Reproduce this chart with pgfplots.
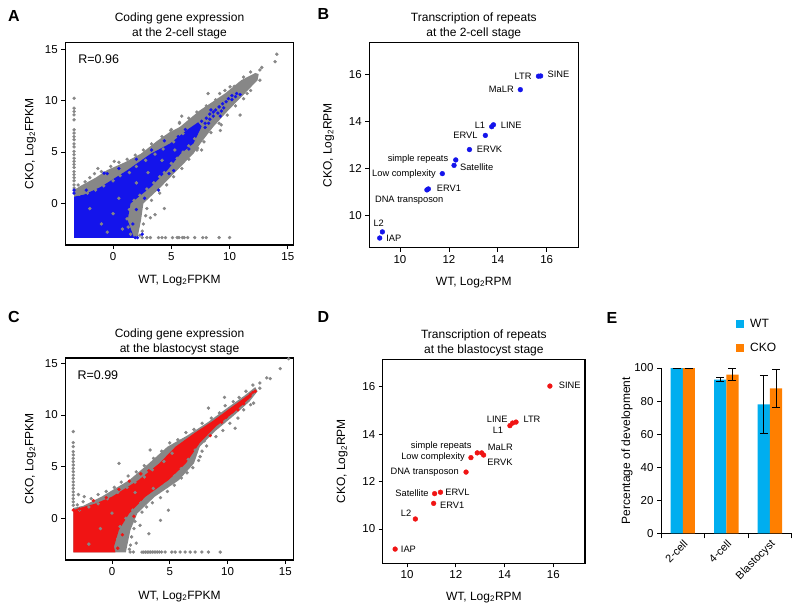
\documentclass[border=0pt]{standalone}
\usepackage{fontspec}
\setmainfont{Liberation Sans}
\usepackage{pgfplots}
\pgfplotsset{compat=1.18}
\definecolor{scgray}{RGB}{135,135,135}
\definecolor{scblue}{RGB}{20,20,235}
\definecolor{scred}{RGB}{240,20,20}
\definecolor{wtblue}{RGB}{0,174,239}
\definecolor{ckoorange}{RGB}{255,127,0}
\pgfplotsset{
  scatterax/.style={scale only axis, tick align=outside, xtick pos=left, ytick pos=left,
    major tick length=4pt, axis line style={line width=1.1pt},
    tick style={line width=0.8pt, black},
    /pgf/number format/assume math mode=true,
    tick label style={font=\fontsize{11.5}{13}\selectfont},
    label style={font=\fontsize{12}{14}\selectfont},
    title style={font=\fontsize{12}{15}\selectfont, align=center, at={(0.5,1)}, anchor=south, inner sep=0pt, yshift=-2.8pt}},
  gpt/.style={only marks, mark=*, mark size=1.5pt, color=scgray, mark options={solid, fill=scgray, draw=scgray}},
  bpt/.style={only marks, mark=*, mark size=1.5pt, color=scblue, mark options={solid, fill=scblue, draw=scblue}},
  rpt/.style={only marks, mark=*, mark size=1.5pt, color=scred, mark options={solid, fill=scred, draw=scred}},
}
\tikzset{lab/.style={font=\fontsize{9.3}{11}\selectfont, inner sep=0pt}}
\begin{document}
\begin{tikzpicture}
\path[use as bounding box] (0pt,0pt) rectangle (800pt,-612pt);
\tikzset{letter/.style={font=\bfseries\fontsize{16}{16}\selectfont}}
\node[letter] at (14pt,-15.5pt) {A};
\node[letter] at (323.5pt,-14pt) {B};
\node[letter] at (14pt,-316.7pt) {C};
\node[letter] at (323.5pt,-317pt) {D};
\node[letter] at (612pt,-317.5pt) {E};

% ---------------- A ----------------
\begin{axis}[scatterax, at={(65.3pt,-245pt)}, anchor=south west, width=228.4pt, height=202.3pt,
  xmin=-4.1, xmax=15.5, ymin=-4.05, ymax=15.65, xtick={0,5,10,15}, ytick={0,5,10,15},
  title={Coding gene expression\\at the 2-cell stage},
  xlabel={WT, Log\textsubscript{2}FPKM}, ylabel={CKO, Log\textsubscript{2}FPKM},
  xlabel style={at={(axis description cs:0.5,0)}, anchor=base, yshift=-38pt},
  ylabel style={at={(axis description cs:-0.14,0.5)}, anchor=base}]
\addplot[draw=none, fill=scgray] coordinates {(-3.35,-3.35) (-3.35,1.3) (-2.8,1.7) (-1.5,2.5) (-0.5,3.25) (1.0,4.0) (2.4,4.85) (3.8,6.1) (4.8,6.9) (5.75,7.46) (7.46,9.08) (9.6,10.7) (11.0,12.0) (12.2,12.7) (12.5,12.6) (12.4,12.0) (11.3,10.7) (9.9,9.08) (8.6,7.46) (7.5,5.84) (6.9,4.84) (5.5,3.24) (4.1,1.6) (2.6,0.0) (2.4,-1.63) (2.1,-3.35)};
\addplot[gpt] coordinates {(-3.0,1.8) (-2.4,2.1) (-2.0,2.5) (-1.6,2.9) (-1.0,3.1) (-0.2,3.6) (0.5,4.0) (1.2,4.3) (1.9,4.7) (2.6,5.2) (3.3,5.8) (4.2,6.5) (5.0,7.2) (5.7,7.8) (6.5,8.3) (7.2,8.9) (8.0,9.5) (8.8,10.1) (9.6,11.0) (10.4,11.4) (11.2,12.3) (11.8,12.8) (12.6,13.0) (12.76,13.24) (-0.77,2.75) (-1.3,3.4) (0.1,4.1)
(12.6,12.0) (11.8,11.0) (11.2,10.2) (10.5,9.5) (9.8,8.6) (9.1,7.8) (8.4,6.9) (7.8,6.0) (7.2,5.2) (6.5,4.3) (5.9,3.4) (5.2,2.6) (4.6,1.8) (4.0,1.0) (3.3,0.3) (2.9,-0.5) (2.8,-1.2) (2.6,-2.0) (2.5,-2.7) (2.3,-3.1) (3.2,-1.4) (4.4,-0.5) (3.6,-1.1)
(4.94,7.1) (5.9,8.5) (5.7,7.9) (8.15,10.7) (9.15,10.7) (10.04,11.35) (11.5,10.7) (10.9,8.6) (9.2,7.1) (9.28,7.65) (7.6,5.2) (7.26,5.39) (13.9,13.8) (14.05,14.53)
(-3.35,1.5) (-3.35,1.8) (-3.35,2.2) (-3.35,2.5) (-3.35,2.8) (-3.35,3.1) (-3.35,3.5) (-3.35,3.8) (-3.35,4.1) (-3.35,4.4) (-3.35,4.75) (-3.35,5.07) (-3.35,5.5) (-3.35,5.8) (-3.35,6.2) (-3.35,6.5) (-3.35,6.85) (-3.35,7.17) (-3.35,8.14) (-3.35,8.62) (-3.35,8.95) (-3.35,9.27) (-3.35,10.24)
(2.5,-3.33) (2.9,-3.33) (3.2,-3.33) (3.9,-3.33) (4.2,-3.33) (4.5,-3.33) (5.1,-3.33) (5.5,-3.33) (5.65,-3.33) (5.95,-3.33) (6.1,-3.33) (6.4,-3.33) (7.0,-3.33) (7.7,-3.33) (8.0,-3.33) (9.1,-3.33) (10.0,-3.33)};
\addplot[draw=none, fill=scblue] coordinates {(-3.35,-3.35) (-3.35,0.65) (-2.5,0.85) (-1.06,1.6) (1.23,3.24) (3.24,4.84) (4.9,5.84) (6.4,7.2) (7.3,7.9) (7.6,7.5) (6.9,5.84) (5.8,4.84) (4.66,3.24) (3.24,1.6) (1.5,0.0) (1.25,-1.63) (1.8,-3.35)};
\addplot[gpt] coordinates {(-2.9,0.9) (-2.2,1.0) (-1.5,1.3) (-0.8,1.7) (0.0,2.2) (0.6,2.7) (1.4,3.0) (2.0,3.6) (2.8,4.2) (3.6,4.8) (4.3,5.3) (5.2,6.0) (6.0,6.8) (1.5,-3.0) (1.3,-2.3) (1.2,-1.5) (1.4,-0.6) (1.8,0.3) (2.3,0.8) (2.9,1.4) (3.5,2.0) (4.0,2.6) (4.4,3.0) (5.0,3.9) (5.5,4.4) (6.0,5.0) (6.5,5.6) (7.0,6.3) (0.0,-1.0) (-1.0,-2.0) (0.5,0.5) (-2.0,-0.5) (2.0,2.0) (3.0,3.0) (-0.5,-2.8) (0.8,-2.5) (4.2,4.2) (5.3,5.2)};
\addplot[bpt] coordinates {(7.2,7.4) (7.6,8.0) (7.9,7.8) (8.0,8.3) (8.3,8.7) (8.3,8.2) (8.6,8.9) (8.6,8.5) (8.8,9.1) (9.0,8.8) (9.1,9.4) (9.3,9.0) (9.4,9.7) (9.5,9.3) (9.7,9.9) (9.9,10.2) (10.2,10.1) (10.2,10.5) (10.5,10.4) (10.6,10.7) (10.9,10.6) (8.2,7.8) (7.9,7.4) (8.4,9.1) (9.2,8.5) (6.2,7.2) (5.6,6.5)
(-0.77,2.95) (-0.5,2.9) (-3.35,1.0) (-3.35,1.3) (-2.3,1.3) (0.5,3.4) (2.0,4.3) (3.3,5.2) (4.4,6.1) (5.2,3.2) (3.9,1.3) (2.0,-0.6) (1.7,-2.0) (2.1,-3.33) (2.5,-3.0) (1.9,-3.33) (4.8,2.9) (6.5,5.3) (2.7,0.5)};
\node[font=\fontsize{12.5}{14}\selectfont, anchor=west, inner sep=0pt] at (axis cs:-3.0,14.0) {R=0.96};
\end{axis}

% ---------------- B ----------------
\begin{axis}[scatterax, at={(369.3pt,-247.7pt)}, anchor=south west, width=209pt, height=205pt,
  xmin=8.745, xmax=17.29, ymin=8.64, ymax=17.33, xtick={10,12,14,16}, ytick={10,12,14,16},
  title={Transcription of repeats\\at the 2-cell stage},
  xlabel={WT, Log\textsubscript{2}RPM}, ylabel={CKO, Log\textsubscript{2}RPM},
  xlabel style={at={(axis description cs:0.5,0)}, anchor=base, yshift=-37.3pt},
  ylabel style={at={(axis description cs:-0.18,0.5)}, anchor=base}]
\addplot[only marks, mark=*, mark size=2.4pt, color=scblue, mark options={solid, fill=scblue, draw=none}] coordinates {
(15.66,15.91) (15.75,15.92) (14.92,15.34) (13.75,13.77) (13.82,13.85) (13.49,13.40) (12.84,12.80) (12.28,12.36) (12.21,12.13) (11.73,11.78) (11.16,11.13) (11.10,11.09) (9.28,9.31) (9.17,9.05)};
\node[lab, anchor=east] at (axis cs:15.385,15.92) {LTR};
\node[lab, anchor=west] at (axis cs:16.03,16.0) {SINE};
\node[lab, anchor=east] at (axis cs:14.66,15.35) {MaLR};
\node[lab, anchor=east] at (axis cs:13.49,13.83) {L1};
\node[lab, anchor=west] at (axis cs:14.12,13.83) {LINE};
\node[lab, anchor=east] at (axis cs:13.18,13.40) {ERVL};
\node[lab, anchor=west] at (axis cs:13.14,12.80) {ERVK};
\node[lab, anchor=east] at (axis cs:11.98,12.41) {simple repeats};
\node[lab, anchor=west] at (axis cs:12.45,12.07) {Satellite};
\node[lab, anchor=east] at (axis cs:11.47,11.78) {Low complexity};
\node[lab, anchor=west] at (axis cs:11.5,11.14) {ERV1};
\node[lab, anchor=center] at (axis cs:10.375,10.66) {DNA transposon};
\node[lab, anchor=center] at (axis cs:9.13,9.67) {L2};
\node[lab, anchor=west] at (axis cs:9.43,9.03) {IAP};
\end{axis}

% ---------------- C ----------------
\begin{axis}[scatterax, at={(65.3pt,-560pt)}, anchor=south west, width=228.4pt, height=202pt,
  xmin=-4.04, xmax=15.73, ymin=-4.04, ymax=15.52, xtick={0,5,10,15}, ytick={0,5,10,15},
  title={Coding gene expression\\at the blastocyst stage},
  xlabel={WT, Log\textsubscript{2}FPKM}, ylabel={CKO, Log\textsubscript{2}FPKM},
  xlabel style={at={(axis description cs:0.5,0)}, anchor=base, yshift=-39pt},
  ylabel style={at={(axis description cs:-0.14,0.5)}, anchor=base}]
\addplot[draw=none, fill=scgray] coordinates {(-3.35,-3.3) (-3.35,1.0) (-2.5,1.2) (-0.9,2.09) (1.5,3.7) (3.2,5.32) (4.8,6.93) (6.5,8.0) (8.3,9.3) (10.0,10.7) (11.5,11.9) (12.4,12.7) (12.6,12.3) (11.9,11.3) (10.5,9.9) (9.0,8.5) (7.6,6.93) (7.1,5.32) (5.8,3.7) (3.7,2.09) (2.2,0.48) (1.6,-1.13) (1.3,-2.75) (1.2,-3.3)};
\addplot[gpt] coordinates {(-3.0,1.3) (-2.5,1.6) (-1.8,1.9) (-1.2,2.3) (-0.5,2.6) (0.2,3.0) (0.8,3.5) (1.4,4.1) (2.1,4.5) (2.8,5.1) (3.3,6.61) (3.6,5.8) (4.3,6.5) (5.0,7.3) (5.7,7.6) (6.4,8.3) (7.1,8.6) (7.8,9.2) (8.35,10.67) (8.6,9.7) (9.3,10.2) (9.74,11.71) (9.8,10.9) (10.5,11.3) (11.0,11.7) (11.6,12.3) (12.2,12.9) (12.8,13.1) (13.4,13.59) (13.7,13.52) (14.56,14.49) (15.29,15.45) (0.61,5.32) (-2.4,2.1) (-2.9,2.3)
(12.26,11.15) (12.8,12.6) (12.0,11.0) (11.4,10.5) (10.66,8.72) (10.9,9.7) (10.2,9.2) (9.6,8.5) (9.0,7.9) (8.2,7.0) (7.63,5.97) (7.8,6.5) (7.5,5.6) (7.0,4.9) (6.5,4.4) (6.0,3.9) (5.4,3.2) (4.88,0.78) (4.8,2.6) (4.2,2.0) (3.58,2.89) (3.5,1.5) (3.0,1.1) (2.6,0.6) (2.43,-0.68) (2.0,-0.3) (1.9,-1.0) (1.7,-1.8) (1.6,-2.6) (1.5,-3.0) (2.1,-2.4) (4.2,-0.2) (3.2,-1.5)
(-3.35,1.26) (-3.35,1.59) (-3.35,1.91) (-3.35,2.24) (-3.35,2.56) (-3.35,2.89) (-3.35,3.21) (-3.35,3.53) (-3.35,3.86) (-3.35,4.18) (-3.35,4.51) (-3.35,4.83) (-3.35,5.16) (-3.35,5.48) (-3.35,5.8) (-3.35,6.13) (-3.35,6.45) (-3.35,6.94) (-3.35,7.33) (-3.35,8.4)
(1.57,-3.27) (1.85,-3.27) (2.6,-3.27) (2.75,-3.27) (2.9,-3.27) (3.05,-3.27) (3.2,-3.27) (3.35,-3.27) (3.5,-3.27) (3.65,-3.27) (3.8,-3.27) (3.95,-3.27) (4.1,-3.27) (4.3,-3.27) (4.6,-3.27) (5.18,-3.27) (5.47,-3.27) (5.9,-3.27) (6.33,-3.27) (6.77,-3.27) (7.2,-3.27) (7.78,-3.27) (8.35,-3.27) (9.37,-3.27)};
\addplot[draw=none, fill=scred] coordinates {(-3.35,-3.3) (-3.35,0.7) (-3.1,0.9) (-1.5,1.4) (0.0,2.09) (2.3,3.7) (4.1,5.32) (5.5,6.93) (7.2,8.3) (8.7,9.4) (10.4,10.8) (12.0,12.1) (12.1,11.8) (10.6,10.3) (9.0,8.9) (7.6,7.3) (6.4,5.32) (4.9,3.7) (2.9,2.09) (1.5,0.48) (0.6,-1.13) (0.17,-2.75) (0.3,-3.3)};
\addplot[gpt] coordinates {(-2.8,0.8) (-2.0,1.1) (-1.2,1.4) (-0.4,1.9) (0.5,2.5) (1.3,3.0) (2.0,3.5) (2.8,4.0) (3.5,4.7) (4.5,5.5) (5.2,6.3) (1.0,-2.9) (0.5,-2.0) (0.7,-0.8) (1.2,0.0) (1.8,0.8) (2.5,1.5) (3.3,2.1) (4.0,2.7) (4.6,3.3) (5.4,4.1) (6.0,4.8) (6.6,5.7) (7.2,6.6) (8.0,7.5) (-1.0,-1.0) (0.0,0.5) (-2.0,-2.5) (2.0,2.5)};
\addplot[rpt] coordinates {(12.0,12.0) (12.2,12.2) (11.6,11.6) (11.2,11.1) (10.8,10.7) (10.4,10.3) (11.4,11.1) (10.9,10.5) (12.4,12.3) (9.5,9.3) (9.9,9.8) (8.3,8.6) (7.0,7.3) (5.0,5.9) (3.2,4.6) (1.5,3.6) (-0.5,2.0) (-2.8,0.9) (-3.35,0.8) (0.5,-2.9) (0.9,-1.6) (1.9,0.2) (3.0,2.5) (4.5,4.2) (6.2,5.5) (8.5,8.0) (0.6,2.8) (2.5,4.3) (-1.6,1.7)};
\node[font=\fontsize{12.5}{14}\selectfont, anchor=west, inner sep=0pt] at (axis cs:-3.0,13.9) {R=0.99};
\end{axis}

% ---------------- D ----------------
\begin{axis}[scatterax, at={(382.7pt,-563.3pt)}, anchor=south west, width=202.3pt, height=204pt,
  xmin=9.0, xmax=17.3, ymin=8.55, ymax=17.16, xtick={10,12,14,16}, ytick={10,12,14,16},
  title={Transcription of repeats\\at the blastocyst stage},
  xlabel={WT, Log\textsubscript{2}RPM}, ylabel={CKO, Log\textsubscript{2}RPM},
  xlabel style={at={(axis description cs:0.5,0)}, anchor=base, yshift=-36.7pt},
  ylabel style={at={(axis description cs:-0.186,0.5)}, anchor=base}]
\addplot[only marks, mark=*, mark size=2.4pt, color=scred, mark options={solid, fill=scred, draw=none}] coordinates {
(15.86,16.03) (14.47,14.51) (14.33,14.47) (14.22,14.36) (12.88,13.21) (13.06,13.21) (13.14,13.12) (12.62,13.01) (12.42,12.40) (11.13,11.49) (11.37,11.55) (11.09,11.08) (10.34,10.42) (9.51,9.15)};
\node[lab, anchor=west] at (axis cs:16.22,16.08) {SINE};
\node[lab, anchor=east] at (axis cs:14.13,14.64) {LINE};
\node[lab, anchor=west] at (axis cs:14.77,14.64) {LTR};
\node[lab, anchor=east] at (axis cs:13.95,14.15) {L1};
\node[lab, anchor=east] at (axis cs:12.65,13.51) {simple repeats};
\node[lab, anchor=west] at (axis cs:13.31,13.44) {MaLR};
\node[lab, anchor=east] at (axis cs:12.38,13.02) {Low complexity};
\node[lab, anchor=west] at (axis cs:13.29,12.82) {ERVK};
\node[lab, anchor=east] at (axis cs:12.13,12.39) {DNA transposon};
\node[lab, anchor=east] at (axis cs:10.89,11.53) {Satellite};
\node[lab, anchor=west] at (axis cs:11.56,11.56) {ERVL};
\node[lab, anchor=west] at (axis cs:11.35,10.98) {ERV1};
\node[lab, anchor=center] at (axis cs:9.96,10.66) {L2};
\node[lab, anchor=west] at (axis cs:9.74,9.14) {IAP};
\end{axis}

% ---------------- E ----------------
\begin{axis}[at={(661pt,-533.3pt)}, anchor=south west, scale only axis, width=130.7pt, height=165.3pt,
  ybar, bar width=12.2pt, xmin=-0.5, xmax=2.5, ymin=0, ymax=100,
  axis lines*=left, axis line style={line width=0.9pt}, tick align=outside,
  major tick length=4pt, minor tick length=5pt,
  tick style={line width=0.9pt, black},
  ytick={0,20,40,60,80,100},
  xtick={0,1,2}, xticklabels={2-cell,4-cell,Blastocyst},
  minor xtick={-0.5,0.5,1.5,2.5},
  major x tick style={draw=none},
  /pgf/number format/assume math mode=true,
  tick label style={font=\fontsize{11.5}{13}\selectfont},
  x tick label style={rotate=45, anchor=north east, inner sep=1pt, font=\fontsize{11}{12}\selectfont},
  ylabel={Percentage of development},
  label style={font=\fontsize{12}{14}\selectfont},
  ylabel style={at={(axis description cs:-0.237,0.5)}, anchor=base},
  legend image code/.code={\fill[#1] (0pt,-4pt) rectangle (8pt,4pt); \path (12pt,0pt);},
  legend style={at={(0.574,1.31)}, anchor=north west, draw=none, fill=none,
    font=\fontsize{12}{14}\selectfont, row sep=10pt, inner sep=0pt},
  legend cell align=left]
\addplot[forget plot, fill=wtblue, draw=none, bar shift=-6.1pt,
  error bars/.cd, y dir=both, y explicit,
  error bar style={line width=0.8pt, black},
  error mark options={rotate=90, mark size=4pt, line width=0.8pt, black}]
  coordinates {(0,100) +- (0,0) (1,93) +- (0,1.3) (2,78) +- (0,17.5)};
\addplot[forget plot, fill=ckoorange, draw=none, bar shift=6.1pt,
  error bars/.cd, y dir=both, y explicit,
  error bar style={line width=0.8pt, black},
  error mark options={rotate=90, mark size=4pt, line width=0.8pt, black}]
  coordinates {(0,100) +- (0,0) (1,96) +- (0,3.8) (2,87.7) +- (0,11.5)};
\addlegendimage{fill=wtblue, draw=none}
\addlegendentry{WT}
\addlegendimage{fill=ckoorange, draw=none}
\addlegendentry{CKO}
\end{axis}
\end{tikzpicture}
\end{document}
